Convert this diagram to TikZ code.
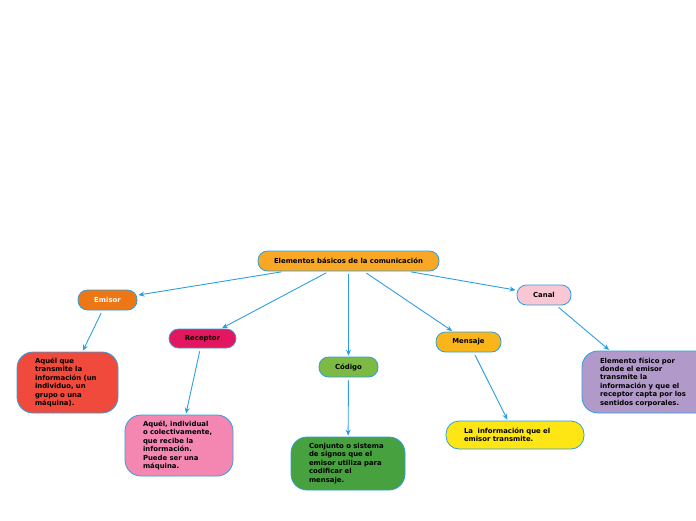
\documentclass[tikz,border=0pt]{standalone}
\usepackage{fontspec}
\setmainfont{DejaVu Sans}
\usetikzlibrary{arrows.meta,positioning}
\definecolor{linkblue}{HTML}{2D9FE0}
\definecolor{topfill}{HTML}{F9A825}
\definecolor{emisorfill}{HTML}{EC7714}
\definecolor{receptorfill}{HTML}{E2175F}
\definecolor{codigofill}{HTML}{7CBA43}
\definecolor{mensajefill}{HTML}{FAB51B}
\definecolor{canalfill}{HTML}{F9C6D3}
\definecolor{emisordesc}{HTML}{F04A3C}
\definecolor{receptordesc}{HTML}{F387B1}
\definecolor{codigodesc}{HTML}{47A13E}
\definecolor{mensajedesc}{HTML}{FEE514}
\definecolor{canaldesc}{HTML}{B199C9}
\tikzset{>={Stealth[length=6pt,width=5pt]},shorten >=1pt,shorten <=3pt}
\tikzset{
    topic/.style={draw=linkblue,line width=0.8pt,rounded corners=9.5pt,
        minimum height=20pt,inner sep=0pt,
        font=\fontsize{6.9}{8.4}\selectfont\bfseries},
    desc/.style={draw=linkblue,line width=0.8pt,rounded corners=16pt,
        align=left,inner xsep=18pt,inner ysep=0pt,
        font=\fontsize{6.9}{8.4}\selectfont\bfseries},
    link/.style={draw=linkblue,line width=0.9pt}
}
\begin{document}
\begin{tikzpicture}[x=1pt,y=-1pt]
    \useasboundingbox (0,0) rectangle (696,520);
        \node[topic,fill=topfill,minimum width=181pt] (top) at (348.5,261)
            {Elementos básicos de la comunicación};
        \node[topic,fill=emisorfill,text=white,minimum width=59pt] (emisor) at (107.5,300) {Emisor};
        \node[topic,fill=receptorfill,minimum width=67pt,minimum height=19pt] (receptor) at (202.5,338.5) {Receptor};
        \node[topic,fill=codigofill,minimum width=59pt] (codigo) at (348.5,367) {Código};
        \node[topic,fill=mensajefill,minimum width=65pt] (mensaje) at (468.5,342) {Mensaje};
        \node[topic,fill=canalfill,minimum width=54pt] (canal) at (544,295) {Canal};
        % descripciones
        \node[desc,fill=emisordesc,text width=65pt,minimum height=61pt] (emisorD) at (67.5,382.5)
            {Aquél que\\ transmite la\\ información (un\\ individuo, un\\ grupo o una\\ máquina).};
        \node[desc,fill=receptordesc,text width=72pt,minimum height=61pt] (receptorD) at (179,445.5)
            {Aquél, individual\\ o colectivamente,\\ que recibe la\\ información.\\ Puede ser una\\ máquina.};
        \node[desc,fill=codigodesc,text width=78pt,minimum height=53pt] (codigoD) at (348,463.5)
            {Conjunto o sistema\\ de signos que el\\ emisor utiliza para\\ codificar el\\ mensaje.};
        \node[desc,fill=mensajedesc,text width=102pt,minimum height=28pt,rounded corners=13pt] (mensajeD) at (515,435)
            {La\ \ información que el\\ emisor transmite.};
        \node[desc,fill=canaldesc,text width=94pt,minimum height=62pt] (canalD) at (647,382)
            {Elemento físico por\\ donde el emisor\\ transmite la\\ información y que el\\ receptor capta por los\\ sentidos corporales.};
    \path[->,link]
            (top) edge (emisor)
            (top) edge (receptor)
            (top) edge (codigo)
            (top) edge (mensaje)
            (top) edge (canal)
            (emisor) edge (emisorD)
            (receptor) edge (receptorD)
            (codigo) edge (codigoD)
            (mensaje) edge (mensajeD)
            (canal) edge (canalD)
            ;
\end{tikzpicture}
\end{document}
